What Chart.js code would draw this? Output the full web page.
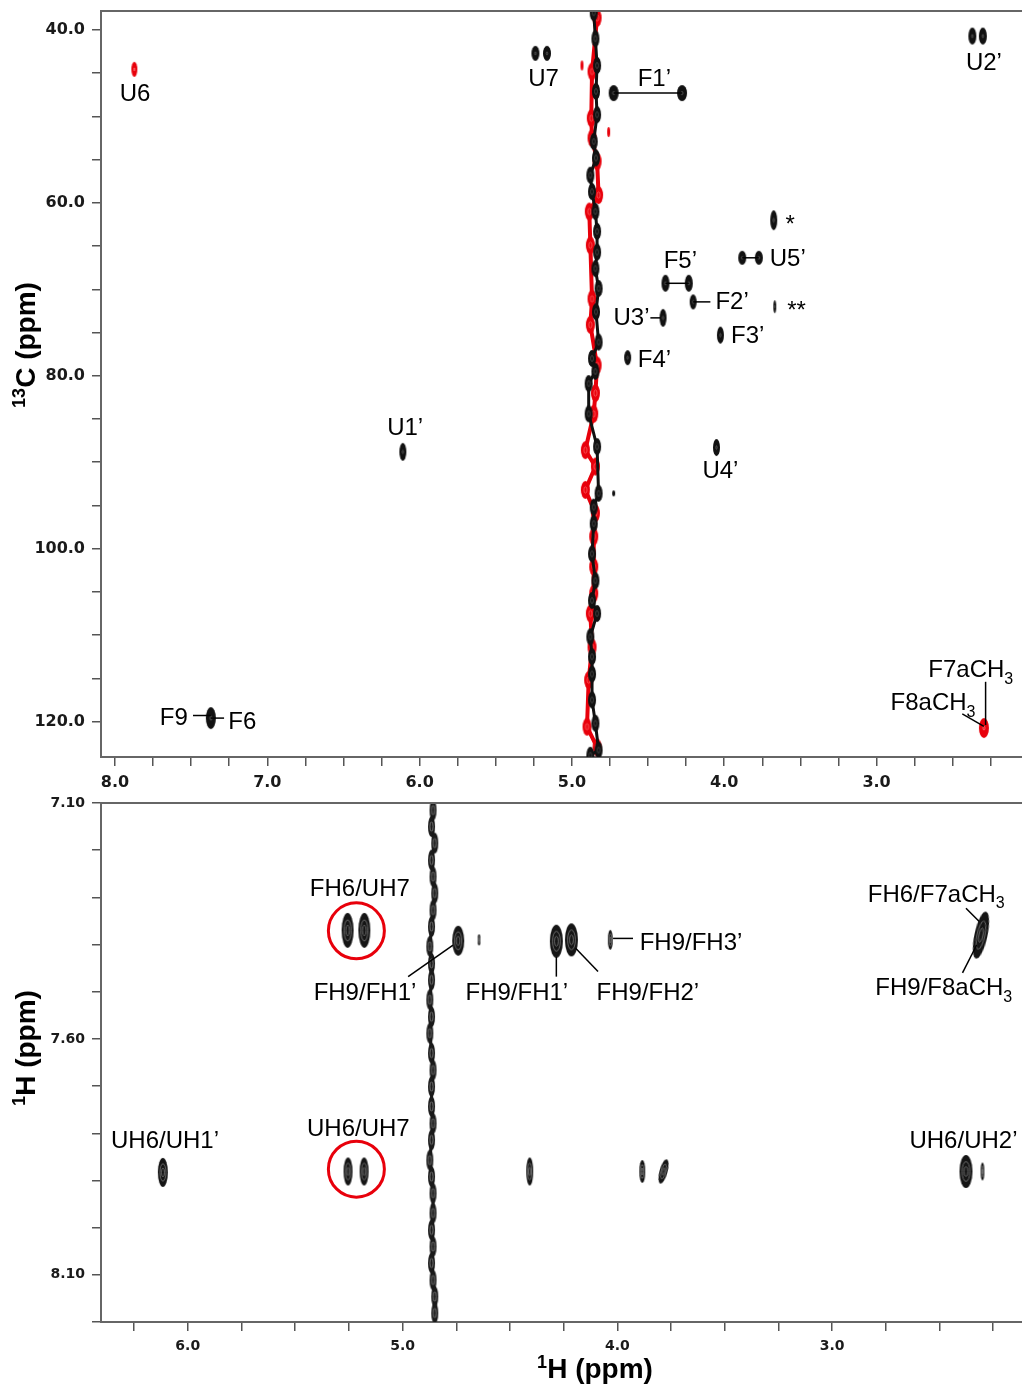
<!DOCTYPE html>
<html>
<head>
<meta charset="utf-8">
<script src="https://cdn.jsdelivr.net/npm/chart.js@4.4.0/dist/chart.umd.min.js"></script>
<style>
  body { margin: 0; background: #fff; }
  #wrap { position: relative; width: 1022px; height: 1384px; }
  .panel { position: absolute; left: 0; width: 1022px; }
  #top-panel { top: 0; height: 790px; }
  #bot-panel { top: 790px; height: 594px; }
</style>
</head>
<body>
<div id="wrap">
  <div class="panel" id="top-panel"><canvas id="hsqc"></canvas></div>
  <div class="panel" id="bot-panel"><canvas id="noesy"></canvas></div>
</div>
<script>
// ---- HSQC (top) : 1H ppm vs 13C ppm ----
const hsqcPeakH = [5.240, 5.164, 2.371, 2.302, 4.726, 4.277, 3.675, 3.882, 3.773, 4.386, 4.233, 4.204, 3.668, 4.402, 4.025, 4.634, 6.110, 4.051, 7.371];
const hsqcPeakC = [42.7, 42.7, 40.7, 40.7, 47.3, 47.3, 62.0, 66.35, 66.35, 69.3, 69.3, 71.45, 72.0, 73.3, 75.3, 77.9, 88.8, 88.3, 119.6];
const hsqcNegH = [7.873, 2.295];
const hsqcNegC = [44.55, 120.75];

// water ridge near 4.85 ppm
const ridgeBlackH = [4.857, 4.846, 4.835, 4.842, 4.835, 4.857, 4.842, 4.879, 4.868, 4.846, 4.835, 4.835, 4.846, 4.825, 4.842, 4.825, 4.868, 4.846, 4.890, 4.890, 4.835, 4.825, 4.857, 4.857, 4.868, 4.846, 4.868, 4.835, 4.879, 4.868, 4.868, 4.868, 4.846, 4.825, 4.879];
const ridgeBlackC = [38.0, 41.0, 44.1, 47.1, 49.8, 52.9, 54.8, 56.8, 58.7, 61.0, 63.3, 65.7, 67.6, 69.9, 72.6, 76.1, 78.0, 79.5, 80.9, 84.4, 88.2, 93.6, 95.2, 97.1, 100.6, 103.7, 106.0, 107.5, 110.2, 112.5, 114.5, 117.5, 120.2, 123.3, 123.9];
const ridgeRedH = [4.835, 4.868, 4.873, 4.868, 4.835, 4.825, 4.886, 4.879, 4.868, 4.879, 4.835, 4.846, 4.857, 4.912, 4.846, 4.912, 4.846, 4.857, 4.857, 4.857, 4.879, 4.868, 4.890, 4.901, 4.835];
const ridgeRedC = [38.6, 44.8, 50.2, 52.5, 55.2, 59.1, 61.0, 64.9, 71.1, 74.1, 78.8, 82.0, 84.4, 88.6, 90.5, 93.2, 95.9, 98.6, 102.1, 105.2, 107.5, 111.4, 115.2, 120.6, 123.0];
const noiseRedH = [4.934, 4.759];
const noiseRedC = [44.1, 51.8];
const noiseBlackH = [4.726];
const noiseBlackC = [93.6];

const hsqcLabelText = ['U6', 'U7', 'U2’', 'F1’', '*', 'U5’', 'F5’', 'F2’', '**', 'U3’', 'F3’', 'F4’', 'U1’', 'U4’', 'F9', 'F6', 'F7aCH|3', 'F8aCH|3'];
const hsqcLabelH = [7.868, 5.186, 2.295, 4.459, 3.598, 3.701, 4.288, 4.058, 3.587, 4.491, 3.955, 4.568, 6.095, 4.025, 7.522, 7.256, 2.660, 2.908];
const hsqcLabelC = [47.5, 45.7, 43.85, 45.7, 62.6, 66.55, 66.8, 71.45, 72.5, 73.4, 75.4, 78.2, 86.1, 91.1, 119.6, 120.05, 114.05, 117.9];
const hsqcLabelAlign = ['center', 'center', 'center', 'center', 'left', 'left', 'center', 'left', 'left', 'right', 'left', 'left', 'center', 'center', 'right', 'left', 'left', 'left'];
// leader / connector lines: [H1, C1, H2, C2]
const hsqcLeaders = [
  [4.726, 47.3, 4.277, 47.3], [4.386, 69.3, 4.233, 69.3], [3.882, 66.35, 3.773, 66.35],
  [4.204, 71.45, 4.091, 71.45], [4.485, 73.3, 4.419, 73.3], [7.488, 119.3, 7.371, 119.3],
  [7.371, 119.6, 7.284, 119.6], [2.284, 115.4, 2.284, 120.4], [2.437, 119.1, 2.295, 120.55]
];

const hsqcXTicks = [8.0, 7.75, 7.5, 7.25, 7.0, 6.75, 6.5, 6.25, 6.0, 5.75, 5.5, 5.25, 5.0, 4.75, 4.5, 4.25, 4.0, 3.75, 3.5, 3.25, 3.0, 2.75, 2.5, 2.25];
const hsqcXLabels = [8.0, 7.0, 6.0, 5.0, 4.0, 3.0];
const hsqcYTicks = [40, 45, 50, 55, 60, 65, 70, 75, 80, 85, 90, 95, 100, 105, 110, 115, 120];
const hsqcYLabels = [40, 60, 80, 100, 120];

// ---- NOESY (bottom) : 1H ppm vs 1H ppm ----
const noesyPeakH = [5.256, 5.178, 4.741, 4.644, 4.284, 4.214, 4.033, 2.307, 6.116, 5.254, 5.179, 4.408, 3.884, 3.785, 2.377, 2.300];
const noesyPeakF = [7.370, 7.370, 7.392, 7.390, 7.393, 7.390, 7.390, 7.380, 7.883, 7.881, 7.881, 7.881, 7.881, 7.881, 7.881, 7.881];
const noesyRidgeH = [4.858, 4.865, 4.850, 4.865, 4.858, 4.850, 4.858, 4.865, 4.873, 4.865, 4.865, 4.873, 4.865, 4.873, 4.865, 4.858, 4.865, 4.865, 4.858, 4.865, 4.873, 4.865, 4.858, 4.858, 4.865, 4.858, 4.865, 4.858, 4.850, 4.850];
const noesyRidgeF = [7.115, 7.150, 7.185, 7.221, 7.256, 7.291, 7.327, 7.362, 7.404, 7.440, 7.475, 7.517, 7.553, 7.588, 7.630, 7.666, 7.701, 7.743, 7.779, 7.814, 7.857, 7.892, 7.927, 7.969, 8.005, 8.040, 8.075, 8.111, 8.146, 8.181];
const circleH = [5.215, 5.215];
const circleF = [7.371, 7.876];

const noesyLabelText = ['FH6/UH7', 'FH9/FH1’', 'FH9/FH1’', 'FH9/FH2’', 'FH9/FH3’', 'FH6/F7aCH|3', 'FH9/F8aCH|3', 'UH6/UH1’', 'UH6/UH7', 'UH6/UH2’'];
const noesyLabelH = [5.199, 5.175, 4.468, 3.858, 3.896, 2.834, 2.799, 6.106, 5.206, 2.640];
const noesyLabelF = [7.284, 7.504, 7.504, 7.504, 7.398, 7.295, 7.493, 7.818, 7.792, 7.818];
const noesyLabelAlign = ['center', 'center', 'center', 'center', 'left', 'left', 'left', 'center', 'center', 'left'];
const noesyLeaders = [
  [4.974, 7.468, 4.765, 7.401], [4.284, 7.426, 4.284, 7.468], [4.194, 7.408, 4.090, 7.457],
  [4.020, 7.387, 3.927, 7.387], [2.377, 7.323, 2.315, 7.351], [2.393, 7.460, 2.327, 7.401]
];

const noesyXTicks = [6.25, 6.0, 5.75, 5.5, 5.25, 5.0, 4.75, 4.5, 4.25, 4.0, 3.75, 3.5, 3.25, 3.0, 2.75, 2.5, 2.25];
const noesyXLabels = [6.0, 5.0, 4.0, 3.0];
const noesyYTicks = [7.1, 7.2, 7.3, 7.4, 7.5, 7.6, 7.7, 7.8, 7.9, 8.0, 8.1, 8.2];
const noesyYLabels = [7.1, 7.6, 8.1];

// ---- drawing styles (pixel sizes of contour blobs) ----
const hsqcPeakSize = [[8,15],[8,15],[8,17],[8,17],[10,16],[10,16],[7,20],[8,14],[8,14],[8,17],[8,17],[7,15],[3,13],[7,18],[7,17],[7,15],[7,18],[7,17],[10,22]];
const hsqcNegSize = [[6,15],[10,20]];
const noesyPeakSize = [[12,35],[12,35],[12,30],[3,11],[13,33],[13,33],[5,20],[13,48],[10,29],[9,28],[9,28],[7,28],[6,23],[8,25],[13,33],[4,18]];
const noesyPeakRot = [0,0,0,0,0,0,0,12,0,0,0,0,0,15,0,0];

const LABEL_FONT = '"Liberation Sans", Arial, sans-serif';

function makeBlob(w, h, fill, ring, rings) {
  const c = document.createElement('canvas');
  c.width = Math.ceil(w) + 2;
  c.height = Math.ceil(h) + 2;
  const g = c.getContext('2d');
  const cx = c.width / 2, cy = c.height / 2;
  g.fillStyle = fill;
  g.beginPath();
  g.ellipse(cx, cy, w / 2, h / 2, 0, 0, Math.PI * 2);
  g.fill();
  if (ring) {
    g.strokeStyle = ring;
    g.lineWidth = 0.7;
    rings.forEach(f => {
      g.beginPath();
      g.ellipse(cx, cy, Math.max(w * f / 2, 0.4), Math.max(h * f / 2, 0.6), 0, 0, Math.PI * 2);
      g.stroke();
    });
  }
  return c;
}

function pts(xs, ys) {
  return xs.map((x, i) => ({ x: x, y: ys[i] }));
}

function axis(min, max, ticks, labels, digits, fontSize, fit) {
  return {
    type: 'linear',
    reverse: true,
    min: min,
    max: max,
    afterBuildTicks: s => { s.ticks = ticks.map(v => ({ value: v })); },
    afterFit: s => {
      fit(s);
      // no extra room for overhanging end labels
      s.paddingLeft = s.paddingRight = s.paddingTop = s.paddingBottom = 0;
    },
    ticks: {
      autoSkip: false,
      maxRotation: 0,
      padding: 7,
      color: '#1a1a1a',
      font: { family: 'DejaVu Sans', weight: 'bold', size: fontSize },
      callback: v => labels.some(l => Math.abs(l - v) < 1e-6) ? Number(v).toFixed(digits) : ''
    },
    grid: { drawOnChartArea: false, drawTicks: true, tickLength: 9, color: '#555', lineWidth: 1.5 },
    border: { display: true, color: '#666', width: 2 }
  };
}

function drawRich(ctx, text, x, y, align) {
  const parts = text.split('|');
  ctx.font = '24px ' + LABEL_FONT;
  const w1 = ctx.measureText(parts[0]).width;
  let w2 = 0;
  if (parts[1]) {
    ctx.font = '16px ' + LABEL_FONT;
    w2 = ctx.measureText(parts[1]).width;
  }
  const total = w1 + w2;
  let x0 = x;
  if (align === 'center') x0 = x - total / 2;
  if (align === 'right') x0 = x - total;
  ctx.textAlign = 'left';
  ctx.textBaseline = 'middle';
  ctx.fillStyle = '#000';
  ctx.font = '24px ' + LABEL_FONT;
  ctx.fillText(parts[0], x0, y);
  if (parts[1]) {
    ctx.font = '16px ' + LABEL_FONT;
    ctx.fillText(parts[1], x0 + w1, y + 9);
  }
}

const peakLabels = {
  id: 'peakLabels',
  afterDatasetsDraw(chart, args, opts) {
    const ctx = chart.ctx;
    const xs = chart.scales.x, ys = chart.scales.y;
    ctx.save();
    ctx.strokeStyle = '#000';
    ctx.lineWidth = 1.5;
    (opts.leaders || []).forEach(l => {
      ctx.beginPath();
      ctx.moveTo(xs.getPixelForValue(l[0]), ys.getPixelForValue(l[1]));
      ctx.lineTo(xs.getPixelForValue(l[2]), ys.getPixelForValue(l[3]));
      ctx.stroke();
    });
    (opts.labels || []).forEach(l => {
      drawRich(ctx, l.text, xs.getPixelForValue(l.x), ys.getPixelForValue(l.y), l.align);
    });
    ctx.restore();
  }
};

const frameAndTitles = {
  id: 'frameAndTitles',
  afterDraw(chart, args, opts) {
    const ctx = chart.ctx;
    const a = chart.chartArea;
    ctx.save();
    ctx.strokeStyle = '#666';
    ctx.lineWidth = 2;
    ctx.beginPath();
    ctx.moveTo(a.left - 1, a.top);
    ctx.lineTo(a.right, a.top);
    ctx.stroke();
    (opts.titles || []).forEach(t => {
      ctx.save();
      ctx.translate(t.x, t.y);
      ctx.rotate(t.rot * Math.PI / 180);
      ctx.fillStyle = '#000';
      ctx.textBaseline = 'alphabetic';
      ctx.textAlign = 'left';
      ctx.font = 'bold 18px ' + LABEL_FONT;
      const ws = ctx.measureText(t.sup).width;
      ctx.font = 'bold 28px ' + LABEL_FONT;
      const wm = ctx.measureText(t.main).width;
      const x0 = -(ws + wm) / 2;
      ctx.font = 'bold 18px ' + LABEL_FONT;
      ctx.fillText(t.sup, x0, -10);
      ctx.font = 'bold 28px ' + LABEL_FONT;
      ctx.fillText(t.main, x0 + ws, 0);
      ctx.restore();
    });
    ctx.restore();
  }
};

function labelItems(texts, xs, ys, aligns) {
  return texts.map((t, i) => ({ text: t, x: xs[i], y: ys[i], align: aligns[i] }));
}

const BLACK = '#111';
const RED = '#e8000b';

// ---- top chart ----
new Chart(document.getElementById('hsqc'), {
  type: 'scatter',
  data: {
    datasets: [
      {
        data: pts(hsqcNegH, hsqcNegC),
        pointStyle: hsqcNegSize.map(s => makeBlob(s[0], s[1], RED, '#ff9090', [0.2])),
        radius: 3
      },
      {
        data: pts(hsqcPeakH, hsqcPeakC),
        pointStyle: hsqcPeakSize.map(s => makeBlob(s[0], s[1], BLACK, '#666', [0.2])),
        radius: 3
      },
      {
        data: pts(noiseBlackH, noiseBlackC),
        pointStyle: makeBlob(3, 6, BLACK),
        radius: 2
      },
      {
        data: pts(noiseRedH, noiseRedC),
        pointStyle: makeBlob(3, 10, RED),
        radius: 2
      },
      {
        data: pts(ridgeBlackH, ridgeBlackC),
        showLine: true,
        borderColor: BLACK,
        borderWidth: 3,
        pointStyle: makeBlob(8, 17, BLACK, '#555', [0.35]),
        radius: 3
      },
      {
        data: pts(ridgeRedH, ridgeRedC),
        showLine: true,
        borderColor: RED,
        borderWidth: 4,
        pointStyle: makeBlob(9, 18, RED, '#ff7070', [0.35]),
        radius: 3
      }
    ]
  },
  options: {
    responsive: true,
    maintainAspectRatio: false,
    animation: false,
    events: [],
    layout: { autoPadding: false, padding: { top: 11, left: 0, right: 0, bottom: 0 } },
    scales: {
      x: axis(2.045, 8.092, hsqcXTicks, hsqcXLabels, 1, 16, s => { s.height = 33; }),
      y: axis(37.8, 124.1, hsqcYTicks, hsqcYLabels, 1, 16, s => { s.width = 101; })
    },
    plugins: {
      legend: { display: false },
      tooltip: { enabled: false },
      peakLabels: {
        labels: labelItems(hsqcLabelText, hsqcLabelH, hsqcLabelC, hsqcLabelAlign),
        leaders: hsqcLeaders
      },
      frameAndTitles: {
        titles: [{ sup: '13', main: 'C (ppm)', x: 35, y: 345, rot: -90 }]
      }
    }
  },
  plugins: [peakLabels, frameAndTitles]
});

// ---- bottom chart ----
new Chart(document.getElementById('noesy'), {
  type: 'scatter',
  data: {
    datasets: [
      {
        data: pts(circleH, circleF),
        pointStyle: 'circle',
        radius: 28,
        borderColor: RED,
        borderWidth: 3,
        backgroundColor: 'rgba(0,0,0,0)'
      },
      {
        data: pts(noesyPeakH, noesyPeakF),
        pointStyle: noesyPeakSize.map(s => makeBlob(s[0], s[1], '#151515', '#8a8a8a', [0.6, 0.3])),
        rotation: noesyPeakRot,
        radius: 3
      },
      {
        data: pts(noesyRidgeH, noesyRidgeF),
        showLine: true,
        borderColor: '#222',
        borderWidth: 3,
        pointStyle: makeBlob(7, 21, '#1a1a1a', '#999', [0.45]),
        radius: 3
      }
    ]
  },
  options: {
    responsive: true,
    maintainAspectRatio: false,
    animation: false,
    events: [],
    layout: { autoPadding: false, padding: { top: 13, left: 0, right: 0, bottom: 0 } },
    scales: {
      x: axis(2.116, 6.404, noesyXTicks, noesyXLabels, 1, 14, s => { s.height = 62; }),
      y: axis(7.10, 8.20, noesyYTicks, noesyYLabels, 2, 14, s => { s.width = 101; })
    },
    plugins: {
      legend: { display: false },
      tooltip: { enabled: false },
      peakLabels: {
        labels: labelItems(noesyLabelText, noesyLabelH, noesyLabelF, noesyLabelAlign),
        leaders: noesyLeaders
      },
      frameAndTitles: {
        titles: [
          { sup: '1', main: 'H (ppm)', x: 35, y: 258, rot: -90 },
          { sup: '1', main: 'H (ppm)', x: 595, y: 588, rot: 0 }
        ]
      }
    }
  },
  plugins: [peakLabels, frameAndTitles]
});
</script>
</body>
</html>
